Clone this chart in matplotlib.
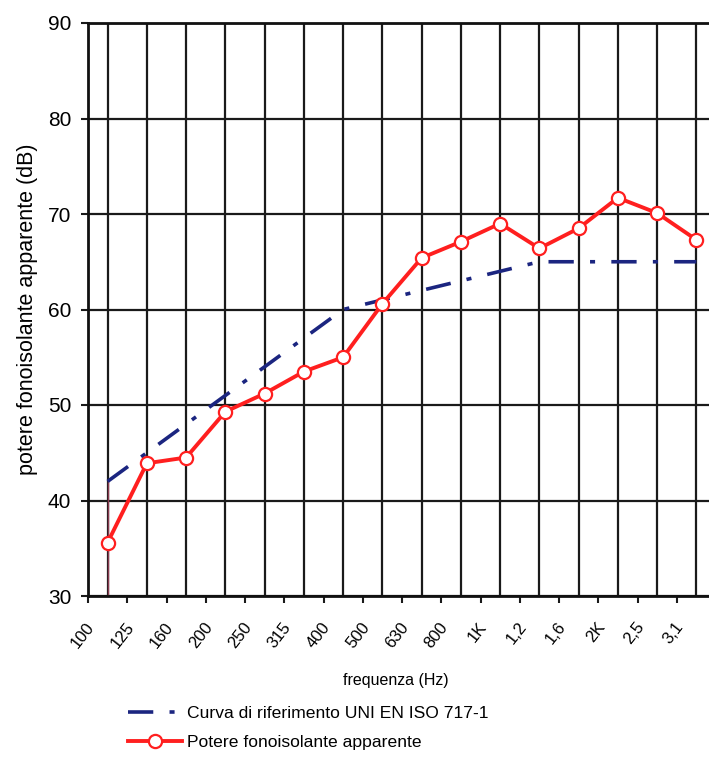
import numpy as np
import matplotlib
matplotlib.use("Agg")
import matplotlib.pyplot as plt
import matplotlib.transforms as mtransforms
from matplotlib.lines import Line2D

# bande di frequenza (etichette come nel grafico originale)
freq_labels = ["100", "125", "160", "200", "250", "315", "400", "500",
               "630", "800", "1K", "1,2", "1,6", "2K", "2,5", "3,1"]
# potere fonoisolante apparente R' misurato (dB)
potere = [35.6, 43.9, 44.5, 49.3, 51.2, 53.5, 55.0, 60.6,
          65.4, 67.1, 69.0, 66.4, 68.5, 71.7, 70.1, 67.3]
# curva di riferimento UNI EN ISO 717-1 traslata (dB)
riferimento = [42, 45, 48, 51, 54, 57, 60, 61, 62, 63, 64, 65, 65, 65, 65, 65]
y_ticks = [30, 40, 50, 60, 70, 80, 90]

plt.rcParams["font.family"] = ["Liberation Sans", "DejaVu Sans"]

RED = "#ff1f1f"
BLUE = "#1b2580"

fig = plt.figure(figsize=(7.09, 7.68), dpi=100)
ax = fig.add_axes([88 / 709, 1 - 596 / 768, 628 / 709, 573 / 768])

x = np.arange(len(freq_labels))

ax.vlines(x[0], y_ticks[0], riferimento[0], color="#8a3b4f", lw=1, zorder=2)
ax.plot(x, riferimento, color=BLUE, lw=2.6, dashes=(7, 4.5, 1.4, 4.5),
        zorder=3)
ax.plot(x, potere, color=RED, lw=2.8, marker="o", ms=9.5, mfc="white",
        mec=RED, mew=1.6, zorder=4)

ax.set_xlim(-0.5, len(freq_labels) - 0.5)
ax.set_ylim(30, 90)

# griglia
ax.set_yticks(y_ticks)
ax.set_xticks(x)
ax.set_xticks(np.arange(len(freq_labels) + 1) - 0.5, minor=True)
ax.grid(True, which="major", color="#1a1a1a", lw=1.6)
ax.set_axisbelow(True)

ax.tick_params(axis="x", which="major", length=0, pad=17, labelsize=12)
ax.tick_params(axis="x", which="minor", length=5, width=1.5,
               direction="out", color="#1a1a1a")
ax.tick_params(axis="y", length=5, width=1.5, direction="out", pad=7,
               labelsize=15, color="#1a1a1a")
ax.set_xticklabels(freq_labels, rotation=52, ha="right", va="top")
shift = mtransforms.ScaledTranslation(-10 / 100, 0, fig.dpi_scale_trans)
for lab in ax.get_xticklabels():
    lab.set_transform(lab.get_transform() + shift)

for side in ["left", "bottom", "top", "right"]:
    ax.spines[side].set_linewidth(2)
    ax.spines[side].set_color("#111111")

ax.set_xlabel("frequenza (Hz)", fontsize=11.5)
ax.xaxis.set_label_coords(0.49, -0.135)
ax.set_ylabel("potere fonoisolante apparente (dB)", fontsize=15.5)
ax.yaxis.set_label_coords(-0.08, 0.5)

handles = [
    Line2D([], [], color=BLUE, lw=2.6, dashes=(7, 4.5, 1.4, 4.5)),
    Line2D([], [], color=RED, lw=2.8, marker="o", ms=9.5, mfc="white",
           mec=RED, mew=1.6),
]
labels = ["Curva di riferimento UNI EN ISO 717-1",
          "Potere fonoisolante apparente"]
fig.legend(handles, labels, loc="upper left",
           bbox_to_anchor=(128 / 709, 1 - 706 / 768), frameon=False,
           fontsize=12.6, handlelength=3.1, handletextpad=0.29,
           borderpad=0, borderaxespad=0, labelspacing=0.75)

fig.savefig("out.png", dpi=100)
